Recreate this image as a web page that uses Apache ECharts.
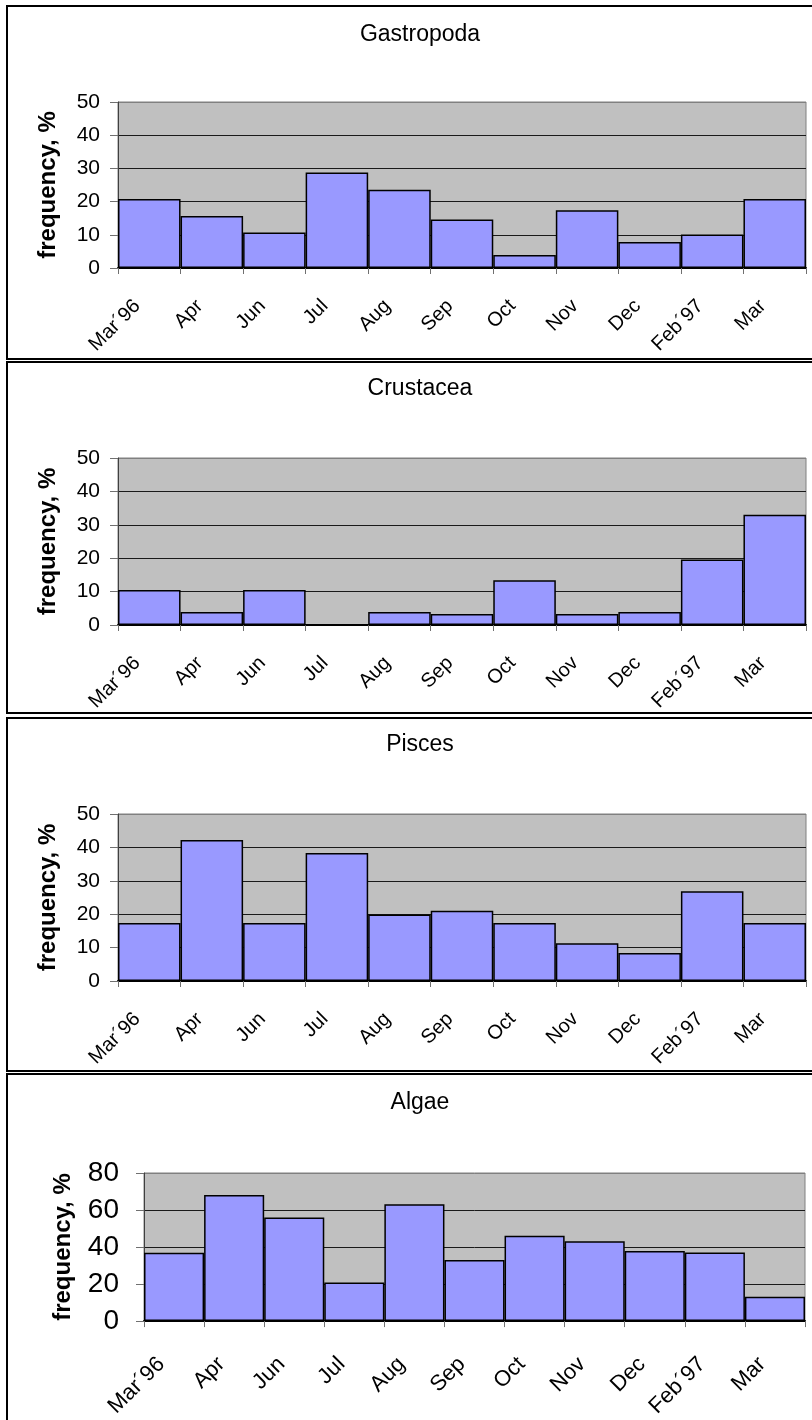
<!DOCTYPE html>
<html>
<head>
<meta charset="utf-8">
<script src="https://cdn.jsdelivr.net/npm/echarts@6/dist/echarts.min.js"></script>
<style>
  html, body { margin: 0; padding: 0; background: #ffffff; }
  #chart { width: 812px; height: 1420px; }
</style>
</head>
<body>
<div id="chart"></div>
<script>
// Sampling months shared by every panel
const categories = ['Mar´96', 'Apr', 'Jun', 'Jul', 'Aug', 'Sep', 'Oct', 'Nov', 'Dec', 'Feb´97', 'Mar'];

// Frequency of occurrence (%) per food group
const gastropoda = [20.8, 15.7, 10.7, 28.8, 23.6, 14.6, 3.9, 17.4, 7.8, 10.1, 20.8];
const crustacea  = [10.5, 3.9, 10.5, 0, 3.9, 3.3, 13.4, 3.3, 3.9, 19.6, 33.0];
const pisces     = [17.4, 42.2, 17.4, 38.3, 19.9, 21.0, 17.4, 11.3, 8.4, 26.9, 17.4];
const algae      = [36.9, 68.1, 55.9, 20.9, 63.1, 33.0, 46.1, 43.1, 37.9, 37.1, 13.1];

const panelNames = ['Gastropoda', 'Crustacea', 'Pisces', 'Algae'];
const yAxisTitle = 'frequency, %';
const yMax  = [50, 50, 50, 80];
const yStep = [10, 10, 10, 20];
const seriesValues = [gastropoda, crustacea, pisces, algae];

// Panel geometry (frame and plot area in pixels)
const panels = [
  { frameTop: 6,    frameBottom: 359,  plotLeft: 118, plotRight: 806, plotTop: 102,  plotBottom: 268,  titleTop: 18,   tick: 21, xl: 20, nameGap: 58, labelMargin: 18, xMargin: 23, xPad: 17 },
  { frameTop: 362,  frameBottom: 713,  plotLeft: 118, plotRight: 806, plotTop: 458,  plotBottom: 625,  titleTop: 372,  tick: 21, xl: 20, nameGap: 58, labelMargin: 18, xMargin: 23, xPad: 17 },
  { frameTop: 718,  frameBottom: 1071, plotLeft: 118, plotRight: 806, plotTop: 814,  plotBottom: 981,  titleTop: 728,  tick: 21, xl: 20, nameGap: 58, labelMargin: 18, xMargin: 23, xPad: 17 },
  { frameTop: 1074, frameBottom: 1440, plotLeft: 144, plotRight: 805, plotTop: 1173, plotBottom: 1324, titleTop: 1086, tick: 28, xl: 22, nameGap: 69, labelMargin: 25, xMargin: 27, xPad: 18 }
];

const FONT = '"Liberation Sans", Arial, Helvetica, sans-serif';

const grids = [], xAxes = [], yAxes = [], series = [], titles = [], frames = [];

panels.forEach((p, i) => {
  frames.push({
    type: 'rect',
    shape: { x: 7, y: p.frameTop, width: 830, height: p.frameBottom - p.frameTop },
    style: { fill: 'none', stroke: '#000000', lineWidth: 2 },
    z: 100
  });

  titles.push({
    text: panelNames[i],
    left: 415,
    top: p.titleTop,
    textAlign: 'center',
    textStyle: { fontFamily: FONT, fontSize: 23, fontWeight: 'normal', color: '#000000' }
  });

  grids.push({
    left: p.plotLeft,
    top: p.plotTop,
    width: p.plotRight - p.plotLeft,
    height: p.plotBottom - p.plotTop,
    show: true,
    backgroundColor: '#c0c0c0',
    borderColor: '#808080',
    borderWidth: 1,
    containLabel: false
  });

  xAxes.push({
    type: 'category',
    gridIndex: i,
    data: categories,
    boundaryGap: true,
    axisLine: { show: true, onZero: false, lineStyle: { color: '#000000', width: 2 } },
    axisTick: { show: true, alignWithLabel: false, length: 6, lineStyle: { color: '#707070', width: 1 } },
    axisLabel: {
      interval: 0,
      rotate: 45,
      margin: p.xMargin,
      padding: [0, p.xPad, 0, 0],
      fontFamily: FONT,
      fontSize: p.xl,
      color: '#000000'
    },
    splitLine: { show: false }
  });

  const nLines = yMax[i] / yStep[i] + 1;
  const lineColors = [];
  for (let k = 0; k < nLines; k++) lineColors.push(k === nLines - 1 ? '#808080' : '#1a1a1a');

  yAxes.push({
    type: 'value',
    gridIndex: i,
    min: 0,
    max: yMax[i],
    interval: yStep[i],
    name: yAxisTitle,
    nameLocation: 'middle',
    nameRotate: 90,
    nameGap: p.nameGap,
    nameTextStyle: { fontFamily: FONT, fontSize: 24, fontWeight: 'bold', color: '#000000' },
    axisLine: { show: true, lineStyle: { color: '#404040', width: 1 } },
    axisTick: { show: true, length: 8, lineStyle: { color: '#707070', width: 1 } },
    axisLabel: { margin: p.labelMargin, fontFamily: FONT, fontSize: p.tick, color: '#000000' },
    splitLine: { show: true, lineStyle: { color: lineColors, width: 1 } }
  });

  series.push({
    type: 'bar',
    xAxisIndex: i,
    yAxisIndex: i,
    data: seriesValues[i],
    barCategoryGap: '0%',
    barGap: '0%',
    itemStyle: { color: '#9999ff', borderColor: '#000000', borderWidth: 1.5 },
    emphasis: { disabled: true },
    animation: false
  });
});

const chart = echarts.init(document.getElementById('chart'), null, { renderer: 'canvas' });
chart.setOption({
  backgroundColor: '#ffffff',
  animation: false,
  title: titles,
  grid: grids,
  xAxis: xAxes,
  yAxis: yAxes,
  series: series,
  graphic: frames
});
</script>
</body>
</html>
